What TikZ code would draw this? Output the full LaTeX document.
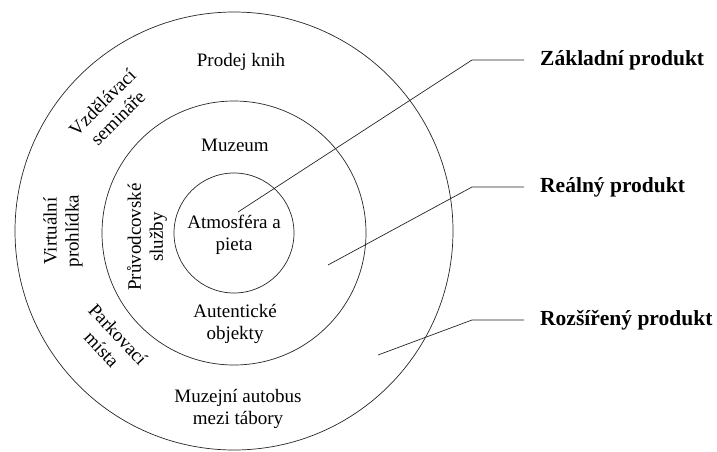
\documentclass[tikz,border=0pt]{standalone}
\usepackage{fontspec}
\setmainfont{Liberation Serif}

\begin{document}
\begin{tikzpicture}[x=1pt, y=-1pt]
	\tikzset{
		ring/.style = {draw=black!85, line width=0.7pt},
		lead/.style = {draw=black!85, line width=0.7pt},
		item/.style = {align=center, inner sep=0pt, font=\fontsize{19}{22}\selectfont},
		level/.style = {anchor=west, inner ysep=0pt, inner xsep=16pt, font=\fontsize{21.5}{24}\selectfont\bfseries}
	}
	\useasboundingbox (0, 0) rectangle (717, 451);
	\draw[ring] (234, 231) circle (219);
	\draw[ring] (234, 233) circle (132);
	\draw[ring] (234, 233) circle (60);

	\node[item] (atmosfera) at (234, 235) {Atmosféra a\\pieta};
	\node[item] (muzeum) at (235, 145) {Muzeum};
	\node[item] (autenticke) at (235, 324) {Autentické\\objekty};
	\node[item, rotate=90] (pruvodce) at (147, 237) {Průvodcovské\\služby};
	\node[item] (prodej) at (241, 62) {Prodej knih};
	\node[item, rotate=45] (seminare) at (110, 110) {Vzdělávací\\semináře};
	\node[item, rotate=90] (virtualni) at (63, 231) {Virtuální\\prohlídka};
	\node[item, rotate=-47] (parkovani) at (110, 342) {Parkovací\\místa};
	\node[item] (autobus) at (238, 409) {Muzejní autobus\\mezi tábory};

	\node[level] (zakladni) at (524, 60) {Základní produkt};
	\node[level] (realny) at (524, 187) {Reálný produkt};
	\node[level] (rozsireny) at (524, 320) {Rozšířený produkt};

	\coordinate (zakladni-in) at (238, 212);
	\coordinate (realny-in) at (328, 265);
	\coordinate (rozsireny-in) at (378, 355);

	\draw[lead] (zakladni-in) -- (472, 60) -- (zakladni.west);
	\draw[lead] (realny-in) -- (472, 187) -- (realny.west);
	\draw[lead] (rozsireny-in) -- (472, 320) -- (rozsireny.west);
\end{tikzpicture}
\end{document}
